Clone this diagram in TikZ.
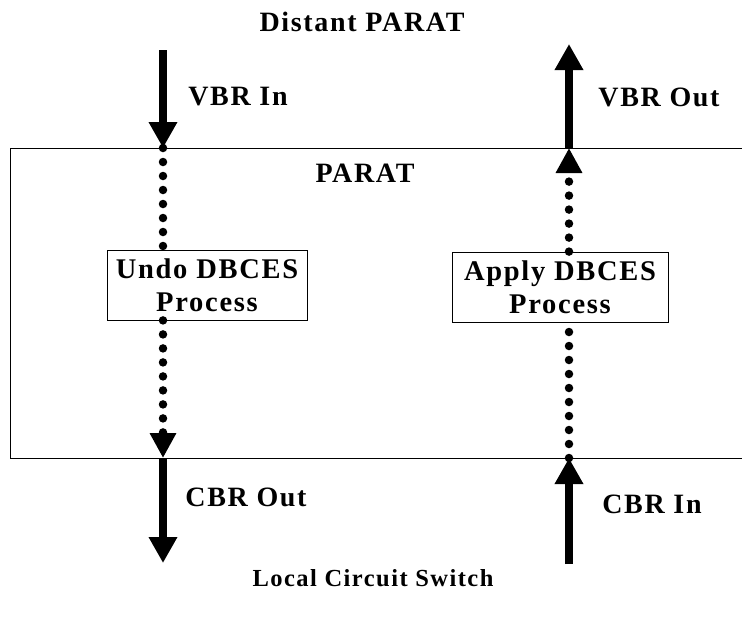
\documentclass[tikz,border=0pt]{standalone}
\usepackage{fontspec}
\setmainfont{Liberation Serif}[LetterSpace=6]
\usetikzlibrary{arrows.meta}
\begin{document}
\begin{tikzpicture}[x=1pt,y=-1pt,
  lbl/.style={font=\fontsize{28}{32}\selectfont\bfseries, inner sep=0pt},
  smalllbl/.style={font=\fontsize{24.5}{30}\selectfont\bfseries, inner sep=0pt},
  procbox/.style={draw, line width=0.8pt, font=\fontsize{28.5}{33}\selectfont\bfseries, align=center, inner sep=0pt},
  bigarrow/.style={line width=8.5pt, -{Triangle[width=27pt,length=26pt]}},
  dotline/.style={line width=8.5pt, line cap=round, dash pattern=on 0pt off 14pt},
  dotarrow/.style={dotline, -{Triangle[width=25pt,length=25pt]}}
]
\useasboundingbox (0,0) rectangle (742,619);
% frame
\draw[line width=1pt] (742,148) -- (10,148) -- (10,458) -- (742,458);
% boxes
\node[procbox, minimum width=200pt, minimum height=70pt] (ubox) at (207,285) {Undo DBCES\\Process};
\node[procbox, minimum width=216pt, minimum height=70pt] (abox) at (560,287) {Apply DBCES\\Process};
% coordinates
\coordinate (vinTop) at (163,50);
\coordinate (lTop) at (163,148);
\coordinate (lBot) at (163,458);
\coordinate (coutEnd) at (163,563);
\coordinate (voutEnd) at (569,44);
\coordinate (rTop) at (569,148);
\coordinate (rBot) at (569,458);
\coordinate (cinStart) at (569,564);
% left chain
\draw[bigarrow] (vinTop) -- (lTop);
\draw[dotline] (lTop) -- (lTop |- ubox.north);
\draw[dotarrow] (lBot |- ubox.south) -- (lBot);
\draw[bigarrow] (lBot) -- (coutEnd);
% right chain
\draw[bigarrow] (rTop) -- (voutEnd);
\draw[dotarrow] (rTop |- abox.north) -- (rTop);
\draw[dotline] (rBot) -- (rBot |- abox.south);
\draw[bigarrow] (cinStart) -- (rBot);
% labels
\node[lbl] (t1) at (362,22) {Distant PARAT};
\node[lbl] (t2) at (238,97) {VBR In};
\node[lbl] (t3) at (659,97) {VBR Out};
\node[lbl] (t4) at (365,173) {PARAT};
\node[lbl] (t5) at (246,497) {CBR Out};
\node[lbl] (t6) at (652,504) {CBR In};
\node[smalllbl] (t7) at (373,578) {Local Circuit Switch};
\end{tikzpicture}
\end{document}
